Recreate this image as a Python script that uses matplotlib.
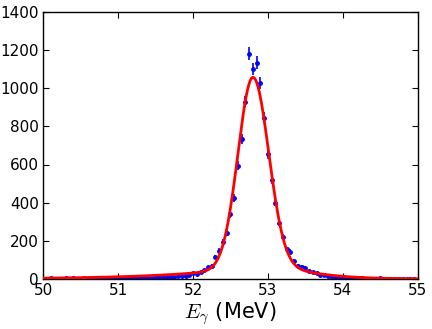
import numpy as np
import matplotlib
matplotlib.use("Agg")
import matplotlib.pyplot as plt

plt.rcParams['mathtext.fontset'] = 'cm'

# Histogram data (bin centers start at 50.00, width 0.05 MeV)
bin_start = 50.0
bin_width = 0.05
counts = [
    2, 1, 3, 2, 1, 2, 4, 2, 3, 1, 2, 3, 2, 4, 3, 2, 3, 5, 2, 4,
    4, 3, 5, 6, 4, 5, 6, 5, 7, 6, 8, 9, 10, 9, 11, 12, 14, 16, 18, 23,
    30, 25, 36, 45, 61, 68, 117, 148, 194, 243, 339, 423, 593, 733, 930, 1180, 1100, 1134, 1026, 844,
    655, 519, 400, 294, 220, 156, 143, 96, 70, 65, 59, 42, 35, 30, 23, 19, 14, 10, 8, 6,
    5, 4, 4, 3, 2, 3, 2, 2, 1, 2, 3, 1, 2, 1, 1, 2, 1, 1, 0, 1,
]

# Fit-curve parameters (asymmetric Gaussian core + exponential tails)
mu = 52.80
amp = 1000.0
sigma_left = 0.20
sigma_right = 0.21
tail_left_amp = 70.0
tail_left_len = 1.0
tail_right_amp = 300.0
tail_right_len = 0.4

xticks = [50, 51, 52, 53, 54, 55]
yticks = [0, 200, 400, 600, 800, 1000, 1200, 1400]

counts = np.array(counts, dtype=float)
x = bin_start + bin_width * np.arange(len(counts))
err = np.sqrt(counts)

xf = np.linspace(50, 55, 1000)
d = xf - mu
sig = np.where(d < 0, sigma_left, sigma_right)
core = amp * np.exp(-d**2 / (2 * sig**2))
tail = 1.0 / (np.exp(d / tail_right_len) / tail_right_amp + np.exp(-d / tail_left_len) / tail_left_amp)
yf = core + tail

fig = plt.figure(figsize=(4.32, 3.29), dpi=100)
ax = fig.add_axes([0.100, 0.152, 0.867, 0.812])
ax.errorbar(x, counts, yerr=err, fmt='.', color='blue', markersize=5,
            elinewidth=1.2, capsize=0, zorder=2)
ax.plot(xf, yf, color='red', lw=2, zorder=3)

ax.set_xlim(50, 55)
ax.set_ylim(0, 1400)
ax.set_xticks(xticks)
ax.set_yticks(yticks)
ax.tick_params(direction='in', top=True, right=True, length=4, labelsize=11, pad=3)
for s in ax.spines.values():
    s.set_linewidth(1.0)
ax.set_xlabel(r'$E_\gamma$ (MeV)', fontsize=15, labelpad=2)

fig.savefig('out.png', dpi=100)
